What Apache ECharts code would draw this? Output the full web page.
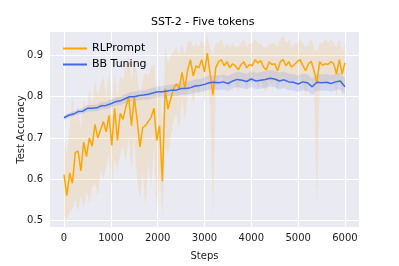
<!DOCTYPE html>
<html><head><meta charset="utf-8">
<script src="https://cdn.jsdelivr.net/npm/echarts@6/dist/echarts.min.js"></script>
<style>html,body{margin:0;padding:0;background:#fff}#c{width:399px;height:266px}</style>
</head><body><div id="c"></div>
<script>
const title = 'SST-2 - Five tokens';
const xName = 'Steps';
const yName = 'Test Accuracy';
const xTicks = [0,1000,2000,3000,4000,5000,6000];
const yTicks = [0.5,0.6,0.7,0.8,0.9];
const rlStep = 60;
const rlMean = [0.611,0.56,0.615,0.59,0.665,0.668,0.62,0.69,0.655,0.70,0.68,
 0.733,0.70,0.72,0.74,0.715,0.755,0.682,0.772,0.694,0.76,
 0.745,0.775,0.80,0.73,0.80,0.745,0.678,0.725,0.73,0.74,
 0.75,0.772,0.694,0.73,0.595,0.82,0.77,0.795,0.82,0.831,
 0.82,0.859,0.82,0.865,0.89,0.85,0.875,0.87,0.89,0.86,
 0.906,0.855,0.804,0.87,0.885,0.89,0.875,0.885,0.87,0.88,
 0.875,0.865,0.878,0.885,0.87,0.878,0.875,0.89,0.882,0.888,
 0.872,0.865,0.885,0.878,0.88,0.863,0.885,0.89,0.875,0.885,
 0.872,0.878,0.885,0.89,0.876,0.863,0.88,0.886,0.863,0.835,
 0.885,0.876,0.88,0.878,0.885,0.88,0.855,0.89,0.855,0.882];
const rlLow = [0.51,0.50,0.52,0.53,0.55,0.52,0.56,0.53,0.57,0.54,0.58,
 0.59,0.56,0.62,0.60,0.63,0.66,0.58,0.65,0.62,0.66,
 0.68,0.64,0.70,0.62,0.70,0.60,0.55,0.62,0.53,0.64,
 0.58,0.68,0.51,0.62,0.51,0.68,0.66,0.70,0.74,0.76,
 0.72,0.80,0.74,0.80,0.83,0.78,0.82,0.80,0.84,0.78,
 0.85,0.78,0.51,0.82,0.84,0.85,0.83,0.84,0.82,0.84,
 0.83,0.81,0.84,0.84,0.82,0.84,0.83,0.85,0.82,0.84,
 0.82,0.81,0.84,0.83,0.84,0.81,0.84,0.85,0.83,0.84,
 0.83,0.84,0.84,0.85,0.83,0.80,0.84,0.84,0.81,0.53,
 0.84,0.83,0.84,0.83,0.84,0.84,0.80,0.85,0.80,0.84];
const rlHigh = [0.70,0.66,0.72,0.80,0.74,0.78,0.72,0.80,0.76,0.82,0.78,
 0.84,0.80,0.83,0.85,0.80,0.86,0.78,0.86,0.80,0.85,
 0.84,0.88,0.90,0.84,0.89,0.86,0.80,0.84,0.86,0.85,
 0.87,0.88,0.80,0.84,0.72,0.92,0.88,0.90,0.91,0.92,
 0.90,0.93,0.90,0.93,0.94,0.92,0.93,0.92,0.94,0.92,
 0.95,0.92,0.90,0.93,0.93,0.94,0.92,0.93,0.92,0.93,
 0.92,0.92,0.93,0.94,0.92,0.93,0.93,0.94,0.93,0.93,
 0.92,0.92,0.93,0.93,0.93,0.92,0.94,0.95,0.93,0.94,
 0.92,0.93,0.93,0.94,0.93,0.92,0.93,0.94,0.92,0.91,
 0.93,0.93,0.94,0.93,0.94,0.93,0.92,0.94,0.91,0.93];
const bbStep = 100;
const bbMean = [0.749,0.755,0.758,0.764,0.765,0.772,0.772,0.773,0.778,0.779,
 0.783,0.788,0.790,0.795,0.800,0.800,0.803,0.804,0.806,0.809,
 0.812,0.812,0.814,0.816,0.816,0.820,0.820,0.822,0.826,0.827,
 0.830,0.834,0.835,0.834,0.836,0.832,0.838,0.842,0.840,0.837,
 0.843,0.838,0.840,0.842,0.845,0.843,0.838,0.841,0.836,0.835,
 0.831,0.836,0.834,0.824,0.835,0.834,0.835,0.832,0.836,0.838,0.824];
const bbSpread = [0.005,0.006,0.006,0.007,0.007,0.008,0.008,0.008,0.009,0.009,
 0.010,0.010,0.010,0.011,0.011,0.012,0.012,0.012,0.013,0.013,
 0.013,0.014,0.014,0.014,0.015,0.015,0.015,0.016,0.016,0.016,
 0.017,0.017,0.017,0.018,0.018,0.018,0.018,0.019,0.019,0.019,
 0.019,0.020,0.020,0.020,0.020,0.020,0.020,0.020,0.020,0.020,
 0.020,0.020,0.020,0.020,0.020,0.020,0.020,0.020,0.020,0.020,0.020];

const rlPts = rlMean.map((v,i)=>[i*rlStep, v]);
const bbPts = bbMean.map((v,i)=>[i*bbStep, v]);
const rlBand = rlLow.map((v,i)=>[i*rlStep, v, rlHigh[i]]);
const bbBand = bbMean.map((v,i)=>[i*bbStep, v-bbSpread[i], v+bbSpread[i]]);

function bandSeries(band, color){
  return {
    type:'custom', silent:true, z:1,
    data: band,
    encode:{x:0, y:[1,2]},
    renderItem: function(params, api){
      if (params.dataIndex !== 0) return null;
      const up = [], lo = [];
      for (const d of band){ up.push(api.coord([d[0], d[2]])); lo.push(api.coord([d[0], d[1]])); }
      const pts = up.concat(lo.reverse());
      return {type:'polygon', shape:{points:pts}, style:{fill:color}};
    }
  };
}

const font = 'DejaVu Sans';
const chart = echarts.init(document.getElementById('c'), null, {renderer:'canvas'});
chart.setOption({
  animation:false,
  backgroundColor:'#fff',
  title:{text:title, left:151, top:17, padding:0,
    textStyle:{fontFamily:font, fontSize:11, fontWeight:'normal', color:'#000'}},
  grid:{left:50, right:40, top:32, bottom:34, show:true, backgroundColor:'#EAEAF2', borderWidth:0},
  legend:{left:58, top:38, orient:'vertical', itemGap:5, itemWidth:24, itemHeight:10,
    textStyle:{fontFamily:font, fontSize:11, color:'#000'},
    data:[{name:'RLPrompt', icon:'path://M0,4 L24,4 L24,6 L0,6 Z'},{name:'BB Tuning', icon:'path://M0,4 L24,4 L24,6 L0,6 Z'}]},
  xAxis:{type:'value', min:-300, max:6300, name:xName, nameLocation:'middle', nameGap:24,
    nameMoveOverlap:false,
    nameTextStyle:{fontFamily:font, fontSize:10, color:'#222'},
    axisLine:{show:false}, axisTick:{show:false, customValues:xTicks},
    axisLabel:{customValues:xTicks, fontFamily:font, fontSize:10, color:'#222', margin:6,
      formatter:v=>String(v)},
    splitLine:{show:true, lineStyle:{color:'#fff', width:1}}},
  yAxis:{type:'value', min:0.484, max:0.957, name:yName, nameLocation:'middle', nameGap:24,
    nameMoveOverlap:false,
    nameTextStyle:{fontFamily:font, fontSize:10, color:'#222'},
    axisLine:{show:false}, axisTick:{show:false, customValues:yTicks},
    axisLabel:{customValues:yTicks, fontFamily:font, fontSize:10, color:'#222', margin:7,
      formatter:v=>v.toFixed(1)},
    splitLine:{show:true, lineStyle:{color:'#fff', width:1}}},
  series:[
    bandSeries(rlBand, 'rgba(255,165,0,0.13)'),
    bandSeries(bbBand, 'rgba(65,105,225,0.15)'),
    {name:'RLPrompt', type:'line', data:rlPts, showSymbol:false, z:3,
      lineStyle:{color:'#FFA500', width:1.5}, itemStyle:{color:'#FFA500'}},
    {name:'BB Tuning', type:'line', data:bbPts, showSymbol:false, z:3,
      lineStyle:{color:'#4169E1', width:1.5}, itemStyle:{color:'#4169E1'}}
  ]
});
</script></body></html>
